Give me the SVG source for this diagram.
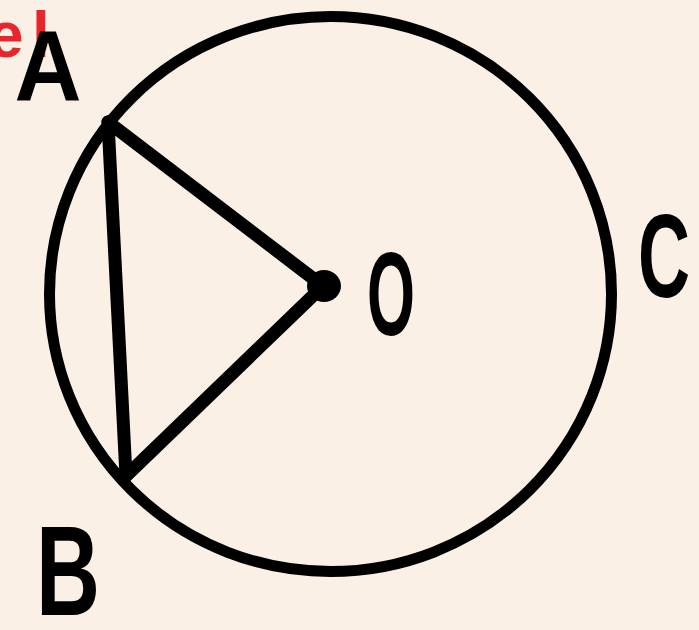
<svg xmlns="http://www.w3.org/2000/svg" width="699" height="630" viewBox="0 0 699 630">
<style>
.ln{stroke:#000;stroke-width:13;stroke-linecap:round;fill:none}
.lbl{font-family:"Liberation Sans",Arial,sans-serif;font-weight:bold;fill:#000;text-anchor:middle}
.red{font-family:"Liberation Sans",Arial,sans-serif;font-weight:bold;fill:#E8252D}
</style>
<rect width="699" height="630" fill="#FBF0E6"/>
<text class="red" x="-12" y="57" font-size="64">e<tspan x="32">l</tspan></text>
<g id="circle"><ellipse cx="330.5" cy="294" rx="281" ry="277.5" fill="none" stroke="#000" stroke-width="11"/></g>
<g id="connectors">
<line class="ln" x1="108" y1="122" x2="323" y2="286"/>
<line class="ln" x1="126" y1="476" x2="323" y2="286"/>
<line class="ln" x1="108" y1="122" x2="126" y2="476"/>
</g>
<g id="O"><ellipse cx="324" cy="286" rx="17" ry="16" fill="#000"/><text class="lbl" x="391" y="335" font-size="118" textLength="48" lengthAdjust="spacingAndGlyphs">O</text></g>
<g id="A"><text class="lbl" x="48" y="101" font-size="100" textLength="67" lengthAdjust="spacingAndGlyphs">A</text></g>
<g id="B"><text class="lbl" x="68" y="615" font-size="128" textLength="64" lengthAdjust="spacingAndGlyphs">B</text></g>
<g id="C"><text class="lbl" x="664" y="297" font-size="118" textLength="52" lengthAdjust="spacingAndGlyphs">C</text></g>
</svg>
